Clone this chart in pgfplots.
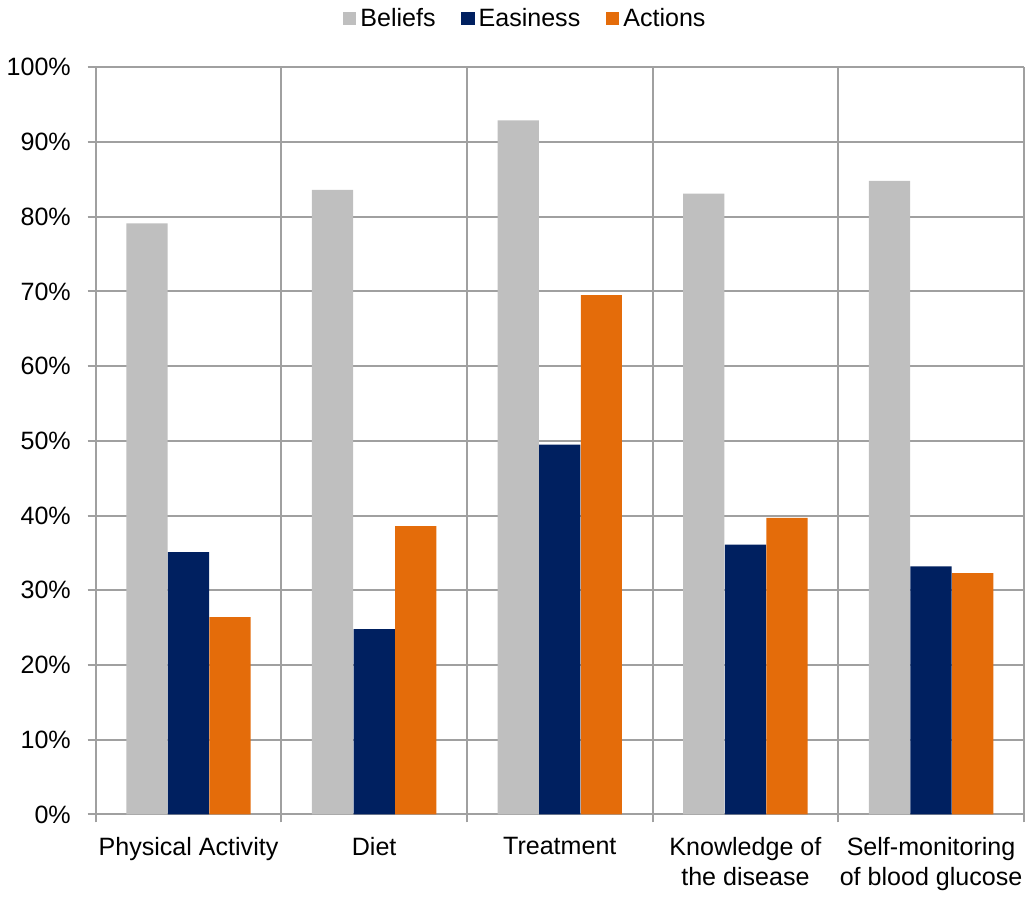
\documentclass[border=0pt]{standalone}
\usepackage{pgfplots}
\pgfplotsset{compat=1.18}
\usepackage{fontspec}
\setmainfont{Liberation Sans}
\definecolor{cgray}{HTML}{BFBFBF}
\definecolor{cnavy}{HTML}{002060}
\definecolor{corange}{HTML}{E46C0A}
\definecolor{cgrid}{HTML}{A0A0A0}
\begin{document}
\begin{tikzpicture}
\begin{axis}[
  scale only axis,
  width=466.5pt, height=375.5pt,
  xmin=-0.5, xmax=4.5,
  ymin=0, ymax=100,
  ybar,
  bar width=0.222,
  axis x line*=bottom,
  axis y line*=left,
  axis line style={cgrid, line width=1pt},
  xtick={0,1,2,3,4},
  xticklabels={Physical Activity, Diet, Treatment, {Knowledge of\\the disease}, {Self-monitoring\\of blood glucose}},
  xticklabel style={align=center, font=\fontsize{12.6}{15}\selectfont, yshift=-4pt},
  major x tick style={draw=none},
  minor xtick={-0.5,0.5,1.5,2.5,3.5,4.5},
  minor x tick style={cgrid, line width=1pt},
  xminorgrids,
  minor grid style={cgrid, line width=1pt},
  ytick={0,10,...,100},
  yticklabel={\pgfmathparse{int(\tick)}\pgfmathresult\%},
  yticklabel style={font=\fontsize{12.6}{15}\selectfont, xshift=-5pt},
  ymajorgrids,
  major grid style={cgrid, line width=1pt},
  y tick style={cgrid, line width=1pt},
  tick align=outside,
  major tick length=4pt,
  minor tick length=4pt,
  legend style={at={(0.464,1.0)}, anchor=south, yshift=15pt, draw=none, fill=none,
    legend columns=-1, font=\fontsize{12.6}{15}\selectfont,
    /tikz/every even column/.append style={column sep=11pt}},
  legend image code/.code={\fill[#1] (0pt,-3.3pt) rectangle (6.6pt,3.3pt);},
]
\addplot[fill=cgray, draw=none, bar shift=-0.224] coordinates {(0,79.1) (1,83.6) (2,92.9) (3,83.1) (4,84.8)};
\addplot[fill=cnavy, draw=none, bar shift=0] coordinates {(0,35.1) (1,24.8) (2,49.5) (3,36.1) (4,33.2)};
\addplot[fill=corange, draw=none, bar shift=0.224] coordinates {(0,26.4) (1,38.6) (2,69.5) (3,39.7) (4,32.3)};
\legend{Beliefs, Easiness, Actions}
\end{axis}
\end{tikzpicture}
\end{document}
